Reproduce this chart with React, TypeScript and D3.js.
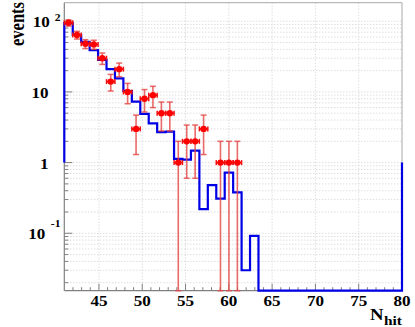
import React from "react";
import * as d3 from "d3";

const W = 415;
const H = 327;

// histogram binning
const binLow = 41;
const binHigh = 80;
const nBins = 40;

// blue (simulation) histogram contents per bin
const mcValues = [
  94, 64, 51, 39, 28.5, 21, 15.5, 10.3, 7.3, 4.9,
  3.6, 2.7, 2.75, 1.13, 1.1, 1.48, 0.22, 0.48, 0.31, 0.72,
  0.38, 0.03, 0.092, 0, 0, 0, 0, 0, 0, 0,
  0, 0, 0, 0, 0, 0, 0, 0, 0, 0,
];
const mcUnderflow = 1;
const mcOverflow = 1;

// red (data) counts per bin and their errors
const dataCounts = [
  95, 64, 48, 47, 30, 14, 21, 10, 3, 8,
  9, 5, 5, 1, 2, 2, 3, 0, 1, 1,
  1, 0, 0, 0, 0, 0, 0, 0, 0, 0,
  0, 0, 0, 0, 0, 0, 0, 0, 0, 0,
];
const dataErrors = [
  9.7, 8, 6.9, 6.9, 5.5, 3.7, 4.6, 3.2, 1.7, 2.8,
  3, 2.2, 2.2, 1, 1.4, 1.4, 1.7, 0, 1, 1,
  1, 0, 0, 0, 0, 0, 0, 0, 0, 0,
  0, 0, 0, 0, 0, 0, 0, 0, 0, 0,
];

const xTickValues = [45, 50, 55, 60, 65, 70, 75, 80];
const xTickLabels = ["45", "50", "55", "60", "65", "70", "75", "80"];
const yTickValues = [0.1, 1, 10, 100];
const yTickBase = ["10", "1", "10", "10"];
const yTickExp = ["-1", "", "", "2"];

const yMin = 0.0154;
const yMax = 183;

const FONT = "'Liberation Serif', 'DejaVu Serif', serif";

export default function App() {
  const left = 64.3;
  const right = 402;
  const top = 2.7;
  const bottom = 290.7;
  const sx = 1.22;

  const x = d3.scaleLinear().domain([binLow, binHigh]).range([left, right]);
  const y = d3.scaleLog().domain([yMin, yMax]).range([bottom, top]);
  const yc = (v: number) => (v <= yMin ? bottom : Math.max(top, y(v)));
  const bw = (binHigh - binLow) / nBins;
  const edges = d3.range(nBins + 1).map((i) => binLow + i * bw);

  let path = `M${x(binLow)},${yc(mcUnderflow)}`;
  mcValues.forEach((v, i) => {
    path += `V${yc(v)}H${x(edges[i + 1])}`;
  });
  path += `V${yc(mcOverflow)}`;

  const yGrid = y.ticks().filter((t) => t > yMin && t < yMax);
  const xMinor = d3.range(binLow + 1, binHigh);

  const errColor = "#e64545";

  return (
    <svg
      width={W}
      height={H}
      style={{ position: "absolute", left: 0, top: 0, background: "#fff" }}
    >
      <rect x={0} y={0} width={W} height={H} fill="#fff" />
      {/* grid */}
      {xTickValues
        .filter((t) => t < binHigh)
        .map((t) => (
          <line
            key={"gx" + t}
            x1={x(t)}
            x2={x(t)}
            y1={top}
            y2={bottom}
            stroke="#cfcfcf"
            strokeWidth={1}
            strokeDasharray="1,2"
          />
        ))}
      {yGrid.map((t, i) => (
        <line
          key={"gy" + i}
          x1={left}
          x2={right}
          y1={y(t)}
          y2={y(t)}
          stroke="#cfcfcf"
          strokeWidth={1}
          strokeDasharray="1,2"
        />
      ))}
      {/* frame */}
      <line x1={left} x2={right} y1={top} y2={top} stroke="#a8a8a8" strokeWidth={1} />
      <line x1={right} x2={right} y1={top} y2={bottom} stroke="#a8a8a8" strokeWidth={1} />
      <line x1={left} x2={left} y1={top} y2={bottom} stroke="#808080" strokeWidth={1.2} />
      <line x1={left} x2={right} y1={bottom} y2={bottom} stroke="#808080" strokeWidth={1.2} />
      {/* x ticks */}
      {xMinor.map((t) => {
        const major = t % 5 === 0;
        return (
          <line
            key={"xt" + t}
            x1={x(t)}
            x2={x(t)}
            y1={bottom}
            y2={bottom - (major ? 7 : 3.5)}
            stroke="#808080"
            strokeWidth={1}
          />
        );
      })}
      {/* y ticks */}
      {yGrid.map((t, i) => {
        const major = yTickValues.some((v) => Math.abs(v - t) / v < 1e-6);
        return (
          <line
            key={"yt" + i}
            x1={left}
            x2={left + (major ? 8 : 4)}
            y1={y(t)}
            y2={y(t)}
            stroke="#808080"
            strokeWidth={1}
          />
        );
      })}
      {/* blue histogram */}
      <path d={path} fill="none" stroke="#0000e6" strokeWidth={2.2} strokeLinejoin="miter" />
      {/* red data points */}
      {dataCounts.map((n, i) => {
        if (n <= 0) return null;
        const cx = x(binLow + (i + 0.5) * bw);
        const cy = y(n);
        const e = dataErrors[i];
        const yHi = yc(n + e);
        const yLo = yc(n - e);
        const xl = x(edges[i]);
        const xr = x(edges[i + 1]);
        return (
          <g key={"d" + i}>
            <line x1={cx} x2={cx} y1={yHi} y2={yLo} stroke={errColor} strokeWidth={1.6} opacity={0.8} />
            <line x1={cx - 3} x2={cx + 3} y1={yHi} y2={yHi} stroke={errColor} strokeWidth={1.5} opacity={0.8} />
            <line x1={cx - 3} x2={cx + 3} y1={yLo} y2={yLo} stroke={errColor} strokeWidth={1.5} opacity={0.8} />
            <line x1={xl} x2={xr} y1={cy} y2={cy} stroke="#f01010" strokeWidth={1.8} />
            <line x1={xl} x2={xl} y1={cy - 2.5} y2={cy + 2.5} stroke="#f01010" strokeWidth={1.5} />
            <line x1={xr} x2={xr} y1={cy - 2.5} y2={cy + 2.5} stroke="#f01010" strokeWidth={1.5} />
            <circle cx={cx} cy={cy} r={3.2} fill="#ff0000" />
          </g>
        );
      })}
      {/* x tick labels */}
      {xTickValues.map((t, i) => (
        <text
          key={"xl" + t}
          transform={`translate(${x(t)},${305.5}) scale(${sx},1)`}
          textAnchor="middle"
          fontFamily={FONT}
          fontWeight="bold"
          fontSize={14}
          fill="#000"
        >
          {xTickLabels[i]}
        </text>
      ))}
      {/* y tick labels */}
      {yTickValues.map((t, i) => {
        const hasExp = yTickExp[i] !== "";
        const ax = hasExp ? 60.5 : 48.5;
        const expDy = yTickExp[i].startsWith("-") ? -12.5 : -6.5;
        return (
          <text
            key={"yl" + i}
            transform={`translate(${ax},${y(t) + 6}) scale(${sx},1)`}
            textAnchor="end"
            fontFamily={FONT}
            fontWeight="bold"
            fontSize={14}
            fill="#000"
          >
            <tspan>{yTickBase[i]}</tspan>
            {hasExp ? (
              <tspan dx={yTickExp[i].startsWith("-") ? 4.5 : 4} dy={expDy} fontSize={9.5}>
                {yTickExp[i]}
              </tspan>
            ) : null}
          </text>
        );
      })}
      {/* axis titles */}
      <text
        transform={`translate(23.5,46) scale(${sx},1) rotate(-90)`}
        textAnchor="start"
        fontFamily={FONT}
        fontWeight="bold"
        fontSize={16.5}
        fill="#000"
      >
        events
      </text>
      <text
        x={370}
        y={319.5}
        fontFamily={FONT}
        fontWeight="bold"
        fontSize={17}
        fill="#000"
        textLength={13.5}
        lengthAdjust="spacingAndGlyphs"
      >
        N
      </text>
      <text
        x={384}
        y={324.5}
        fontFamily={FONT}
        fontWeight="bold"
        fontSize={12}
        fill="#000"
        textLength={18}
        lengthAdjust="spacingAndGlyphs"
      >
        hit
      </text>
    </svg>
  );
}
